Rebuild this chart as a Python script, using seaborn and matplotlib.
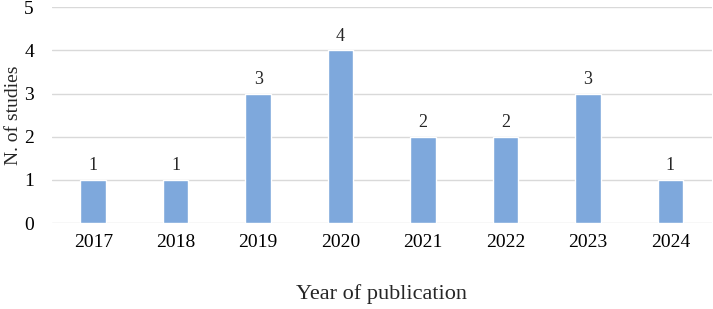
import pandas as pd
import matplotlib.pyplot as plt
import seaborn as sns

# Data
years = ['2017', '2018', '2019', '2020', '2021', '2022', '2023', '2024']
n_studies = [1, 1, 3, 4, 2, 2, 3, 1]

df = pd.DataFrame({'Year': years, 'Studies': n_studies})

sns.set_style('white')
plt.rcParams['font.family'] = ['Liberation Serif', 'DejaVu Serif']

fig = plt.figure(figsize=(7.13, 3.09), dpi=100)
ax = fig.add_axes([0.073, 0.278, 0.925, 0.699])

sns.barplot(x='Year', y='Studies', data=df, color='#7EA8DC', width=0.31,
            saturation=1, ax=ax, zorder=3)

# value labels above bars
for c in ax.containers:
    ax.bar_label(c, fmt='%d', padding=4, fontsize=13)

ax.set_ylim(0, 5)
ax.set_yticks(range(0, 6))
ax.set_xlim(-0.5, len(years) - 0.5)
ax.yaxis.grid(True, color='#D9D9D9', linewidth=1, zorder=0)
ax.set_axisbelow(True)
for s in ax.spines.values():
    s.set_visible(False)
ax.tick_params(axis='both', length=0, labelsize=14, colors='black')
ax.tick_params(axis='x', pad=8)
ax.tick_params(axis='y', pad=13)

ax.set_xlabel('Year of publication', fontsize=16, labelpad=24)
ax.set_ylabel('N. of studies', fontsize=14)
ax.yaxis.set_label_coords(-0.045, 0.5)

fig.savefig('out.png', dpi=100)
